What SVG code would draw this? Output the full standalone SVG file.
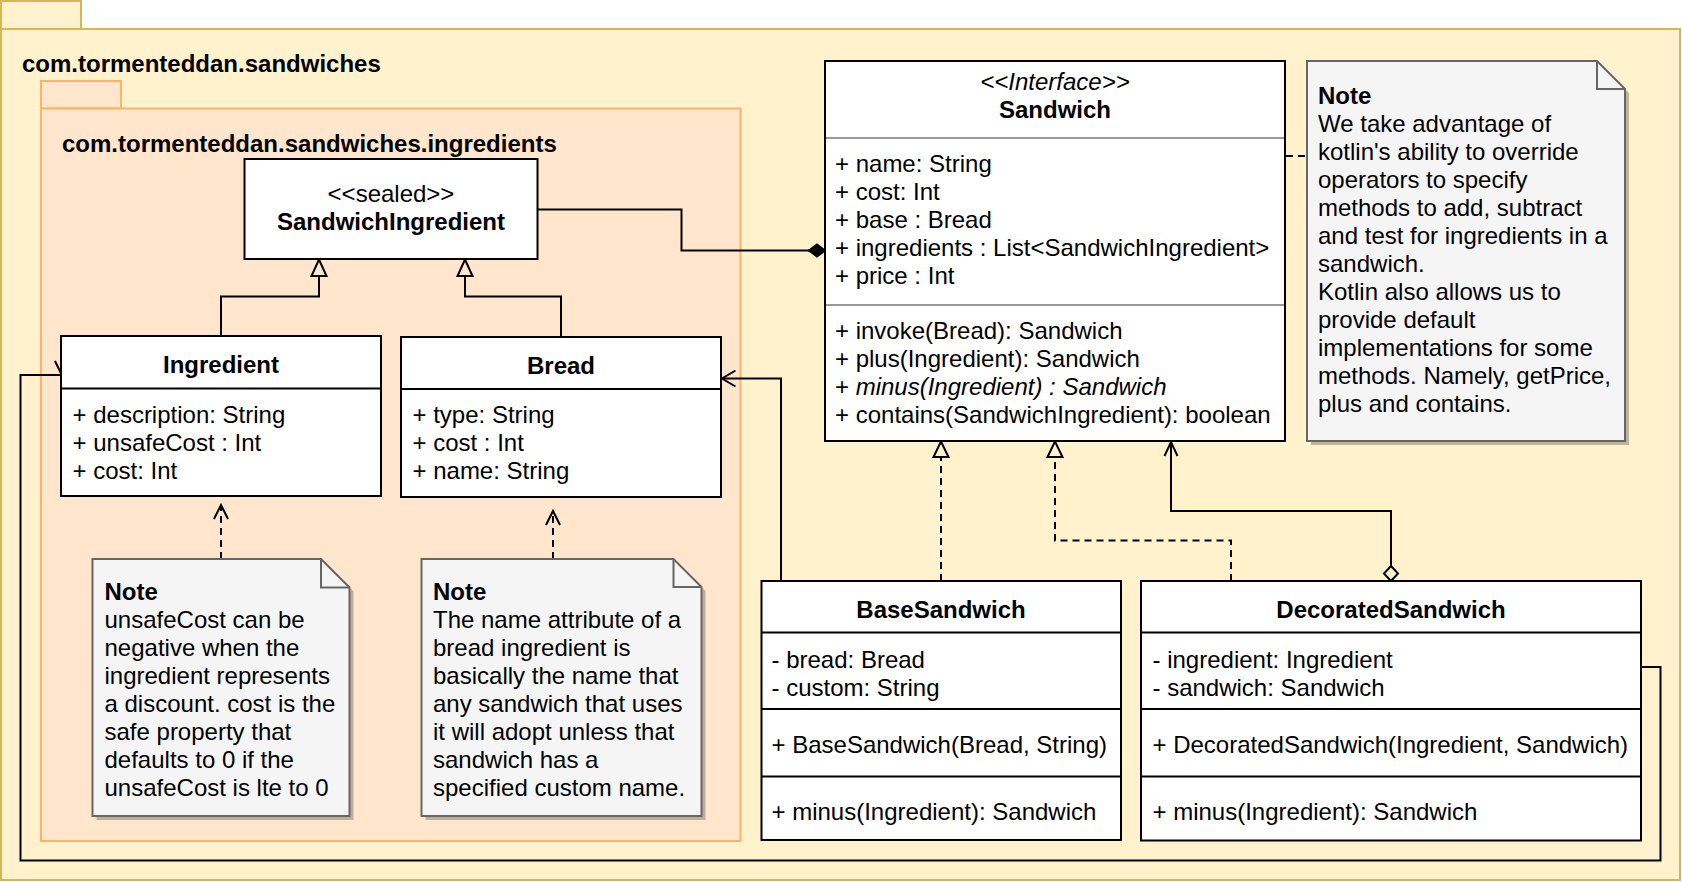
<svg xmlns="http://www.w3.org/2000/svg" width="1682" height="882" viewBox="0 0 1682 882">
<defs>
<style>
text { font-family: "Liberation Sans", Arial, sans-serif; font-size: 24px; fill: #000; }
.b { font-weight: bold; }
.i { font-style: italic; }
.m { text-anchor: middle; }
.box { fill: #fff; stroke: #000; stroke-width: 2; }
.sep { stroke: #000; stroke-width: 2; }
.gsep { stroke: #999; stroke-width: 2; }
.note { fill: #f5f5f5; stroke: #666; stroke-width: 2; }
.fold { fill: none; stroke: #666; stroke-width: 2; }
.shadow { fill: #000; opacity: 0.25; }
.ln { fill: none; stroke: #000; stroke-width: 2; }
.dash { stroke-dasharray: 7 5; }
.head { fill: none; stroke: #000; stroke-width: 2; }
.outer { fill: #fff2cc; stroke: #d6b656; stroke-width: 2; }
.inner { fill: #ffe6cc; stroke: #ffb366; stroke-width: 2; }
</style>
</defs>

<g id="pkg-sandwiches">
  <rect class="outer" x="1" y="1" width="80" height="28"/>
  <rect class="outer" x="1" y="29" width="1679" height="851"/>
  <text class="b" x="22" y="72">com.tormenteddan.sandwiches</text>
</g>

<g id="pkg-ingredients">
  <rect class="inner" x="41" y="81" width="80" height="27.5"/>
  <rect class="inner" x="41" y="108.5" width="699.5" height="732.5"/>
  <text class="b" x="62" y="152">com.tormenteddan.sandwiches.ingredients</text>
</g>

<g id="connectors">
  <!-- SandwichIngredient composition to Sandwich -->
  <path class="ln" d="M537.5,209.5 H681.5 V250.5 H809"/>
  <path d="M825,250.5 L817,244.5 L809,250.5 L817,256.5 Z" fill="#000" stroke="#000" stroke-width="2"/>
  <!-- Ingredient generalization -->
  <path class="ln" d="M221,336 V296.5 H319 V276"/>
  <path class="head" d="M319,259.5 L311.5,276 H326.5 Z"/>
  <!-- Bread generalization -->
  <path class="ln" d="M561,337 V296.5 H465 V276"/>
  <path class="head" d="M465,259.5 L457.5,276 H472.5 Z"/>
  <!-- Note to Sandwich -->
  <path class="ln dash" d="M1286,156 H1307"/>
  <!-- Notes to Ingredient / Bread -->
  <path class="ln dash" d="M221,559 V507"/>
  <path class="head" d="M214,519 L221,505 L228,519"/>
  <path class="ln dash" d="M553,559 V513"/>
  <path class="head" d="M546,525 L553,511 L560,525"/>
  <!-- BaseSandwich to Bread -->
  <path class="ln" d="M781,581 V378.5 H722"/>
  <path class="head" d="M735.5,370.5 L722,378.5 L735.5,386.5"/>
  <!-- BaseSandwich realizes Sandwich -->
  <path class="ln dash" d="M941,581 V457"/>
  <path class="head" d="M941,441.5 L933.5,457 H948.5 Z"/>
  <!-- DecoratedSandwich realizes Sandwich -->
  <path class="ln dash" d="M1231,581 V540.5 H1055 V457"/>
  <path class="head" d="M1055,441.5 L1047.5,457 H1062.5 Z"/>
  <!-- DecoratedSandwich aggregation of Sandwich -->
  <path class="ln" d="M1391,566 V511 H1171 V442"/>
  <path class="head" d="M1164.5,456 L1171,442 L1177.5,456"/>
  <path d="M1391,581 L1384,573.5 L1391,566 L1398,573.5 Z" fill="#fff2cc" stroke="#000" stroke-width="2"/>
  <!-- DecoratedSandwich to Ingredient loop -->
  <path class="ln" d="M1641,667 H1660.5 V860.5 H20.5 V375 H61"/>
  <path class="head" d="M55,361 L61,373.5 L67,361"/>
</g>

<g id="sandwich-ingredient">
  <rect class="box" x="244.5" y="159" width="293" height="100"/>
  <text class="m" x="391" y="202">&lt;&lt;sealed&gt;&gt;</text>
  <text class="b m" x="391" y="230">SandwichIngredient</text>
</g>

<g id="ingredient">
  <rect class="box" x="61" y="336" width="320" height="160"/>
  <line class="sep" x1="61" y1="388.5" x2="381" y2="388.5"/>
  <text class="b m" x="221" y="373">Ingredient</text>
  <text x="72.5" y="423">+ description: String</text>
  <text x="72.5" y="451">+ unsafeCost : Int</text>
  <text x="72.5" y="479">+ cost: Int</text>
</g>

<g id="bread">
  <rect class="box" x="401" y="337" width="320" height="160"/>
  <line class="sep" x1="401" y1="389" x2="721" y2="389"/>
  <text class="b m" x="561" y="373.5">Bread</text>
  <text x="412.5" y="423">+ type: String</text>
  <text x="412.5" y="451">+ cost : Int</text>
  <text x="412.5" y="479">+ name: String</text>
</g>

<g id="note-ingredient">
  <path class="shadow" d="M96.5,563 H325 L353.5,591.5 V820 H96.5 Z"/>
  <path class="note" d="M92.5,559 H321 L349.5,587.5 V816 H92.5 Z"/>
  <path class="fold" d="M321,559 V587.5 H349.5"/>
  <text class="b" x="104.5" y="600">Note</text>
  <text x="104.5" y="628">unsafeCost can be</text>
  <text x="104.5" y="656">negative when the</text>
  <text x="104.5" y="684">ingredient represents</text>
  <text x="104.5" y="712">a discount. cost is the</text>
  <text x="104.5" y="740">safe property that</text>
  <text x="104.5" y="768">defaults to 0 if the</text>
  <text x="104.5" y="796">unsafeCost is lte to 0</text>
</g>

<g id="note-bread">
  <path class="shadow" d="M425.5,563 H677.5 L705.5,591 V820 H425.5 Z"/>
  <path class="note" d="M421.5,559 H673.5 L701.5,587 V816 H421.5 Z"/>
  <path class="fold" d="M673.5,559 V587 H701.5"/>
  <text class="b" x="433" y="600">Note</text>
  <text x="433" y="628">The name attribute of a</text>
  <text x="433" y="656">bread ingredient is</text>
  <text x="433" y="684">basically the name that</text>
  <text x="433" y="712">any sandwich that uses</text>
  <text x="433" y="740">it will adopt unless that</text>
  <text x="433" y="768">sandwich has a</text>
  <text x="433" y="796">specified custom name.</text>
</g>

<g id="sandwich">
  <rect class="box" x="825" y="61" width="460" height="380"/>
  <line class="gsep" x1="826" y1="138" x2="1284" y2="138"/>
  <line class="gsep" x1="826" y1="305" x2="1284" y2="305"/>
  <text class="i m" x="1055" y="90">&lt;&lt;Interface&gt;&gt;</text>
  <text class="b m" x="1055" y="118">Sandwich</text>
  <text x="835" y="172">+ name: String</text>
  <text x="835" y="200">+ cost: Int</text>
  <text x="835" y="228">+ base : Bread</text>
  <text x="835" y="256">+ ingredients : List&lt;SandwichIngredient&gt;</text>
  <text x="835" y="284">+ price : Int</text>
  <text x="835" y="338.5">+ invoke(Bread): Sandwich</text>
  <text x="835" y="366.5">+ plus(Ingredient): Sandwich</text>
  <text x="835" y="394.5">+ <tspan class="i">minus(Ingredient) : Sandwich</tspan></text>
  <text x="835" y="422.5">+ contains(SandwichIngredient): boolean</text>
</g>

<g id="note-sandwich">
  <path class="shadow" d="M1311,65 H1601 L1629,93 V445 H1311 Z"/>
  <path class="note" d="M1307,61 H1597 L1625,89 V441 H1307 Z"/>
  <path class="fold" d="M1597,61 V89 H1625"/>
  <text class="b" x="1318" y="104">Note</text>
  <text x="1318" y="132">We take advantage of</text>
  <text x="1318" y="160">kotlin's ability to override</text>
  <text x="1318" y="188">operators to specify</text>
  <text x="1318" y="216">methods to add, subtract</text>
  <text x="1318" y="244">and test for ingredients in a</text>
  <text x="1318" y="272">sandwich.</text>
  <text x="1318" y="300">Kotlin also allows us to</text>
  <text x="1318" y="328">provide default</text>
  <text x="1318" y="356">implementations for some</text>
  <text x="1318" y="384">methods. Namely, getPrice,</text>
  <text x="1318" y="412">plus and contains.</text>
</g>

<g id="base-sandwich">
  <rect class="box" x="761.5" y="581" width="359.5" height="259"/>
  <line class="sep" x1="761.5" y1="632.5" x2="1121" y2="632.5"/>
  <line class="sep" x1="761.5" y1="709" x2="1121" y2="709"/>
  <line class="sep" x1="761.5" y1="776.5" x2="1121" y2="776.5"/>
  <text class="b m" x="941" y="618">BaseSandwich</text>
  <text x="771.5" y="667.5">- bread: Bread</text>
  <text x="771.5" y="695.5">- custom: String</text>
  <text x="771.5" y="752.5">+ BaseSandwich(Bread, String)</text>
  <text x="771.5" y="820">+ minus(Ingredient): Sandwich</text>
</g>

<g id="decorated-sandwich">
  <rect class="box" x="1141" y="581" width="500" height="259.5"/>
  <line class="sep" x1="1141" y1="632.5" x2="1641" y2="632.5"/>
  <line class="sep" x1="1141" y1="709" x2="1641" y2="709"/>
  <line class="sep" x1="1141" y1="776.5" x2="1641" y2="776.5"/>
  <text class="b m" x="1391" y="618">DecoratedSandwich</text>
  <text x="1152.5" y="667.5">- ingredient: Ingredient</text>
  <text x="1152.5" y="695.5">- sandwich: Sandwich</text>
  <text x="1152.5" y="752.5">+ DecoratedSandwich(Ingredient, Sandwich)</text>
  <text x="1152.5" y="820">+ minus(Ingredient): Sandwich</text>
</g>
</svg>
